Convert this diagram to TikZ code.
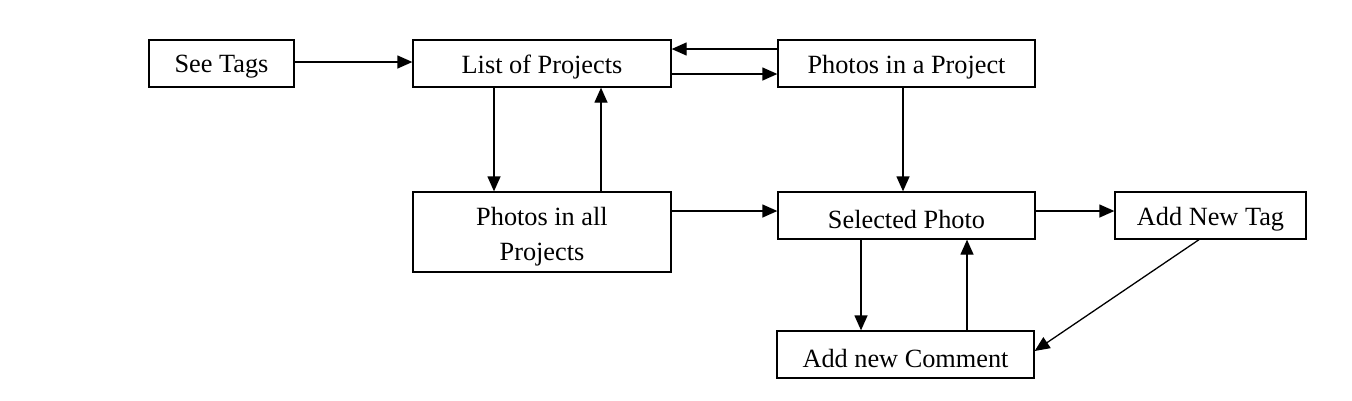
\documentclass[tikz,border=0pt]{standalone}
\usepackage{fontspec}
\setmainfont{Liberation Serif}
\usetikzlibrary{arrows.meta}
\begin{document}
\begin{tikzpicture}[x=1pt,y=-1pt,
  box/.style={draw,line width=1.3pt,inner sep=0pt},
  txt/.style={align=center,yshift=-3.5pt,font=\fontsize{26.3}{35}\selectfont},
  arr/.style={line width=1.3pt,-{Triangle[length=15pt,width=13pt]}}]
\useasboundingbox (0,0) rectangle (1352,400);
\node[box,minimum width=145pt,minimum height=47pt,label={[txt]center:See Tags}] (see) at (221.5,63.5) {};
\node[box,minimum width=258pt,minimum height=47pt,label={[txt]center:List of Projects}] (list) at (542,63.5) {};
\node[box,minimum width=257pt,minimum height=47pt,label={[txt]center:Photos in a Project}] (pip) at (906.5,63.5) {};
\node[box,minimum width=258pt,minimum height=80pt,label={[txt,yshift=-1.5pt]center:Photos in all\\Projects}] (pall) at (542,232) {};
\node[box,minimum width=257pt,minimum height=47pt,label={[txt]center:Selected Photo}] (sel) at (906.5,215.5) {};
\node[box,minimum width=191pt,minimum height=47pt,label={[txt]center:Add New Tag}] (tag) at (1210.5,215.5) {};
\node[box,minimum width=257pt,minimum height=47pt,label={[txt]center:Add new Comment}] (com) at (905.5,354.5) {};
\draw[arr] ([yshift=1.5pt]see.east) -- ([yshift=1.5pt]list.west);
\draw[arr] ([yshift=14.5pt]pip.west) -- ([yshift=14.5pt]list.east);
\draw[arr] ([yshift=-10.5pt]list.east) -- ([yshift=-10.5pt]pip.west);
\draw[arr] ([xshift=-48pt]list.south) -- ([xshift=-48pt]pall.north);
\draw[arr] ([xshift=59pt]pall.north) -- ([xshift=59pt]list.south);
\draw[arr] ([xshift=-3.5pt]pip.south) -- ([xshift=-3.5pt]sel.north);
\draw[arr] ([yshift=21pt]pall.east) -- ([yshift=4.5pt]sel.west);
\draw[arr] ([yshift=4.5pt]sel.east) -- ([yshift=4.5pt]tag.west);
\draw[arr] ([xshift=-45.5pt]sel.south) -- ([xshift=-44.5pt]com.north);
\draw[arr] ([xshift=61.5pt]com.north) -- ([xshift=60.5pt]sel.south);
\draw[arr] ([xshift=-11.5pt]tag.south) -- ([yshift=3.5pt]com.east);
\end{tikzpicture}
\end{document}
